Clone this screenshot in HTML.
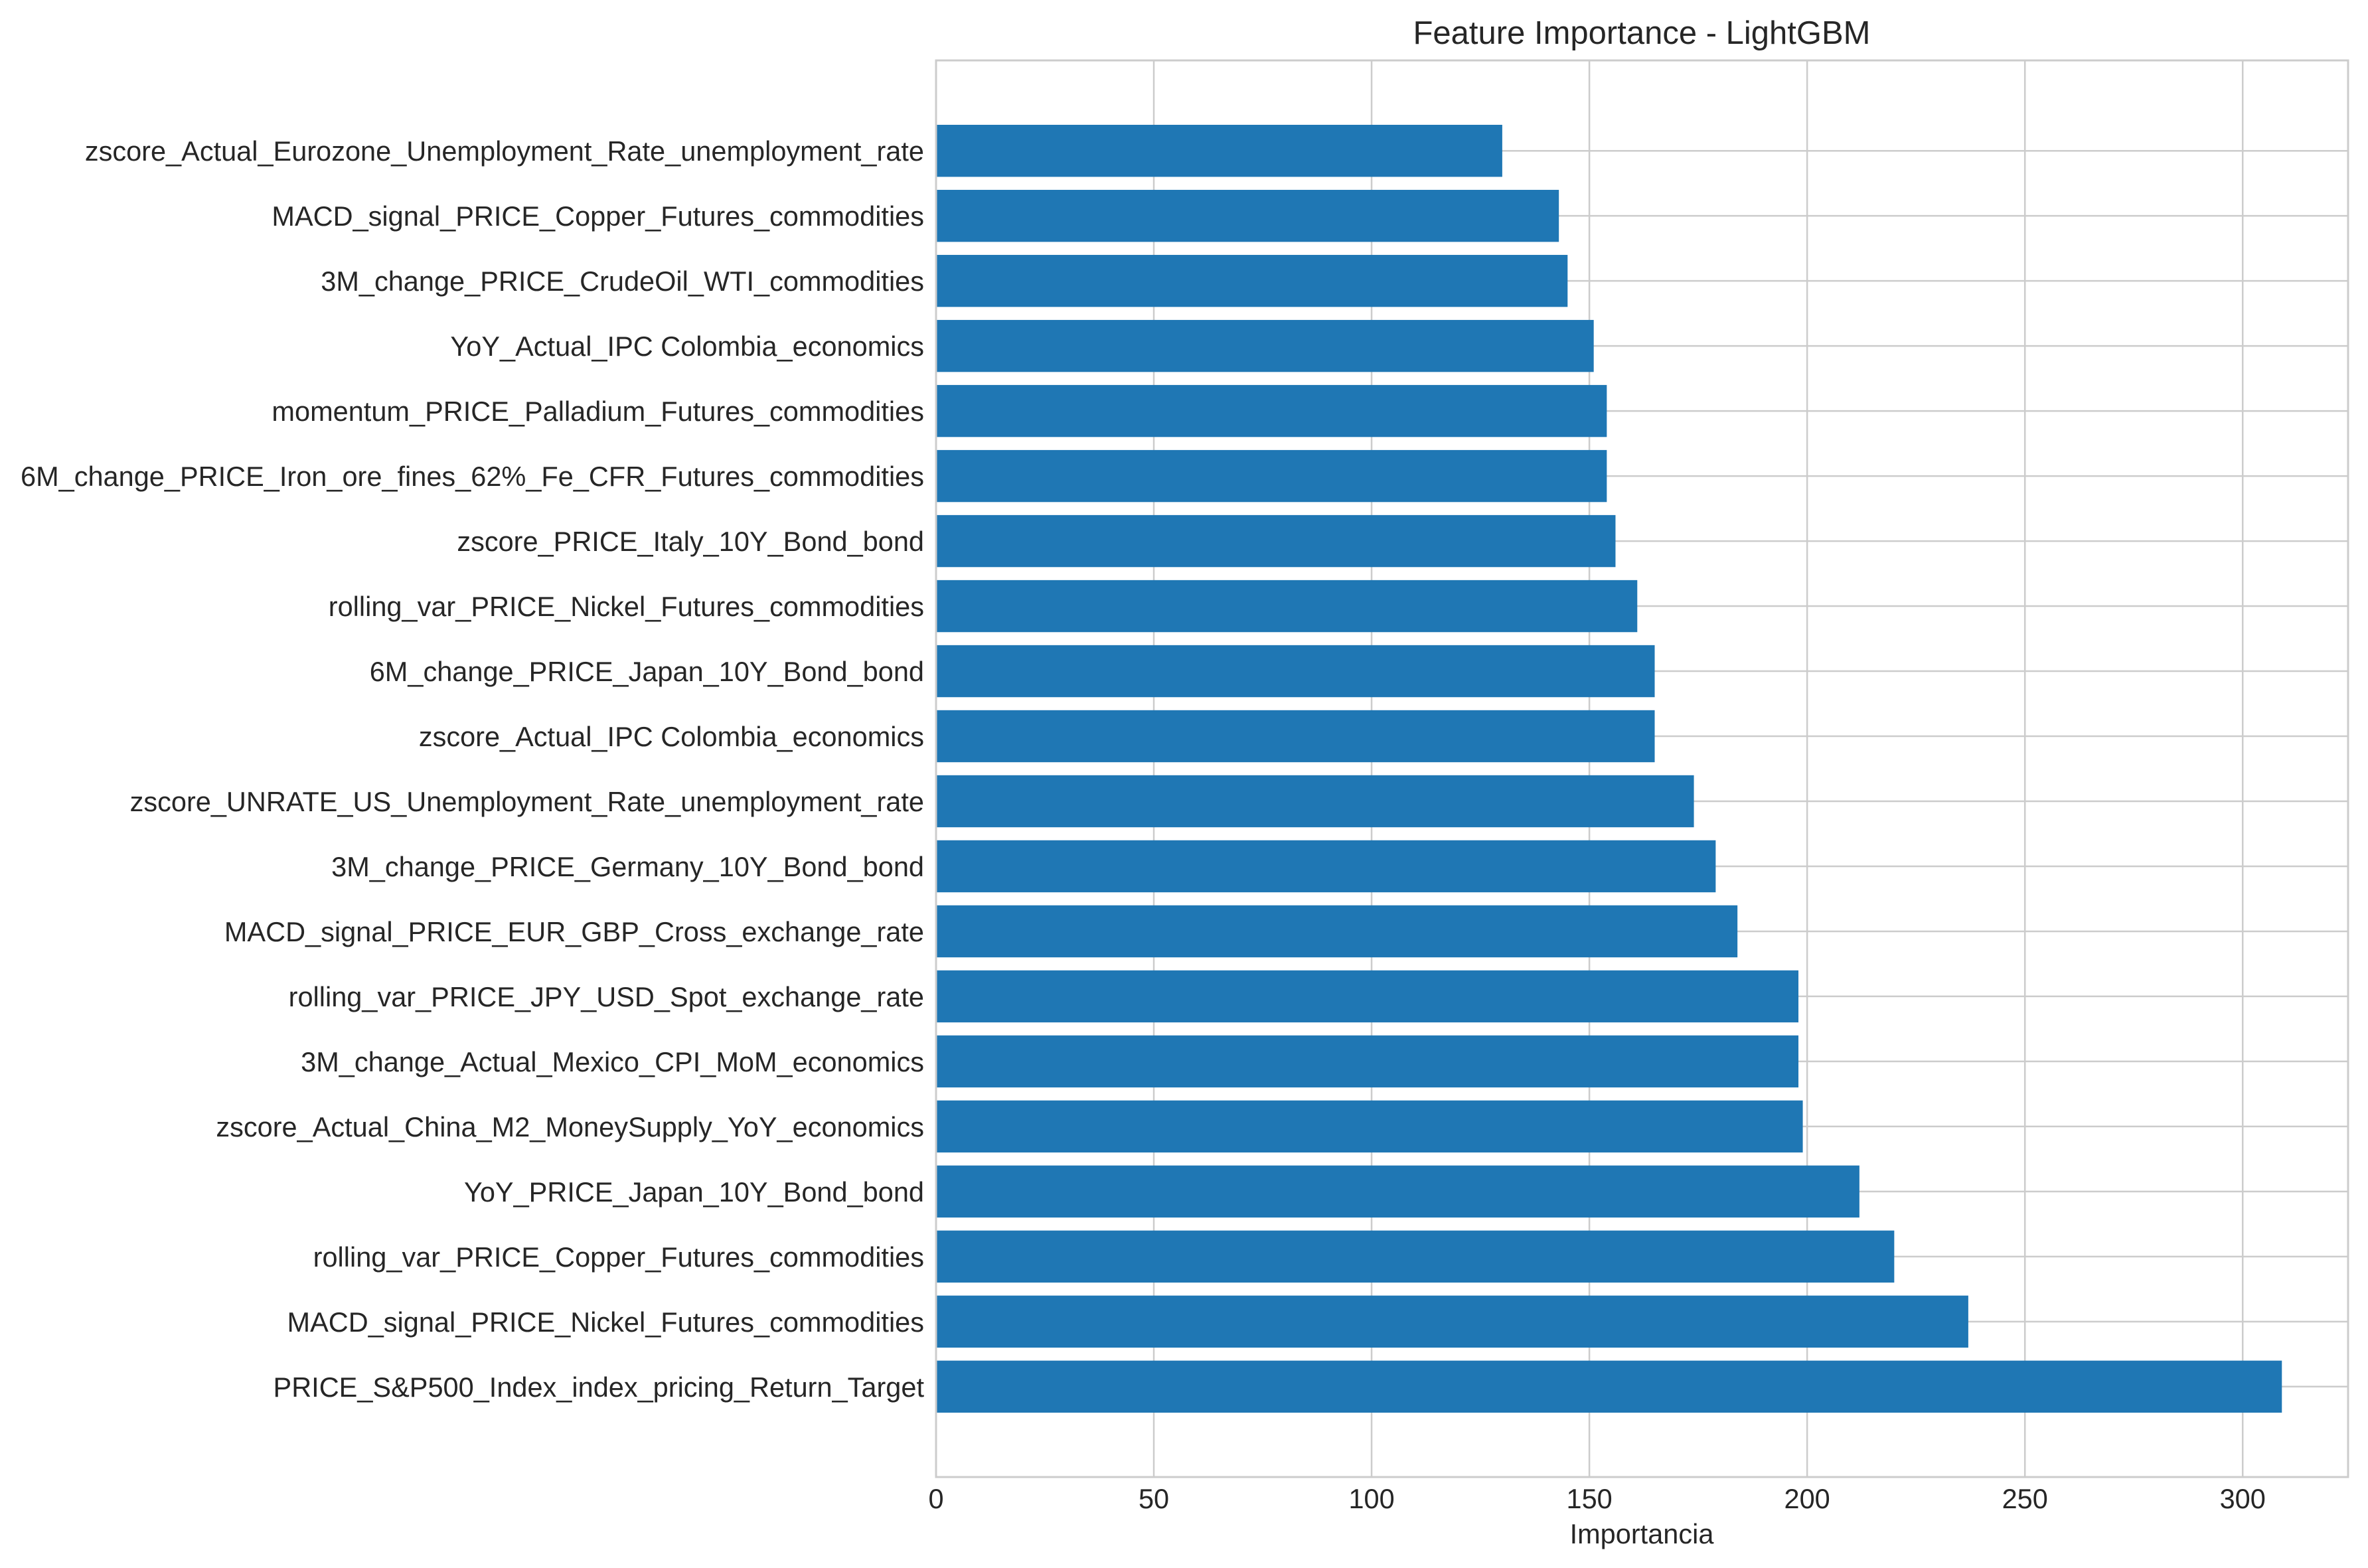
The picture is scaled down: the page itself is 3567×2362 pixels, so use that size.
<!DOCTYPE html>
<html><head><meta charset="utf-8"><style>
html,body{margin:0;padding:0;background:#fff;}
svg{display:block;font-family:"Liberation Sans",Arial,sans-serif;}
</style></head><body>
<svg id="chart" width="3567" height="2362" viewBox="0 0 3567 2362" xmlns="http://www.w3.org/2000/svg">
<rect width="3567" height="2362" fill="#fff"/>
<text x="2473" y="66" font-size="49" fill="#262626" text-anchor="middle">Feature Importance - LightGBM</text>
<g id="grid"></g>
<g id="bars"></g>
<g id="ylabels"></g>
<g id="xticks"></g>
<rect x="1410" y="91" width="2127" height="2134" fill="none" stroke="#cccccc" stroke-width="3"/>
<text x="2473" y="2325" font-size="41.5" fill="#262626" text-anchor="middle">Importancia</text>
</svg>
<script>
const features = [
"zscore_Actual_Eurozone_Unemployment_Rate_unemployment_rate",
"MACD_signal_PRICE_Copper_Futures_commodities",
"3M_change_PRICE_CrudeOil_WTI_commodities",
"YoY_Actual_IPC Colombia_economics",
"momentum_PRICE_Palladium_Futures_commodities",
"6M_change_PRICE_Iron_ore_fines_62%_Fe_CFR_Futures_commodities",
"zscore_PRICE_Italy_10Y_Bond_bond",
"rolling_var_PRICE_Nickel_Futures_commodities",
"6M_change_PRICE_Japan_10Y_Bond_bond",
"zscore_Actual_IPC Colombia_economics",
"zscore_UNRATE_US_Unemployment_Rate_unemployment_rate",
"3M_change_PRICE_Germany_10Y_Bond_bond",
"MACD_signal_PRICE_EUR_GBP_Cross_exchange_rate",
"rolling_var_PRICE_JPY_USD_Spot_exchange_rate",
"3M_change_Actual_Mexico_CPI_MoM_economics",
"zscore_Actual_China_M2_MoneySupply_YoY_economics",
"YoY_PRICE_Japan_10Y_Bond_bond",
"rolling_var_PRICE_Copper_Futures_commodities",
"MACD_signal_PRICE_Nickel_Futures_commodities",
"PRICE_S&P500_Index_index_pricing_Return_Target"];
const importance = [130,143,145,151,154,154,156,161,165,165,174,179,184,198,198,199,212,220,237,309];
const xTicks = [0,50,100,150,200,250,300];

const NS = "http://www.w3.org/2000/svg";
const L = 1410, R = 3537, T = 91, B = 2225;
const xMax = 324.2;
const xs = v => L + v * (R - L) / xMax;
const n = features.length;
const yMin = -0.4 - 0.99, yMax = (n - 1) + 0.4 + 0.99;
const ys = i => T + (i - yMin) * (B - T) / (yMax - yMin);
const unit = (B - T) / (yMax - yMin);

function mk(tag, attrs, parent){const e=document.createElementNS(NS,tag);for(const k in attrs)e.setAttribute(k,attrs[k]);parent.appendChild(e);return e;}
const grid=document.getElementById('grid'),bars=document.getElementById('bars'),yl=document.getElementById('ylabels'),xt=document.getElementById('xticks');

xTicks.forEach(t=>{
  const g=mk('line',{x1:xs(t),x2:xs(t),y1:T,y2:B,stroke:'#cccccc','stroke-width':2.5},grid);
  
  
  const tx=mk('text',{x:xs(t),y:2272,'font-size':41.5,fill:'#262626','text-anchor':'middle'},xt);
  tx.textContent=t;
  
  
});
features.forEach((f,i)=>{
  const g=mk('line',{x1:L,x2:R,y1:ys(i),y2:ys(i),stroke:'#cccccc','stroke-width':2.5},grid);
  
  
  const b=mk('rect',{x:L,y:ys(i)-0.4*unit,width:xs(importance[i])-L,height:0.8*unit,fill:'#1f77b4'},bars);
  
  
  const tx=mk('text',{x:1392,y:ys(i)+15,'font-size':41.5,fill:'#262626','text-anchor':'end'},yl);
  tx.textContent=f;
  
  
});
</script>
</body></html>
